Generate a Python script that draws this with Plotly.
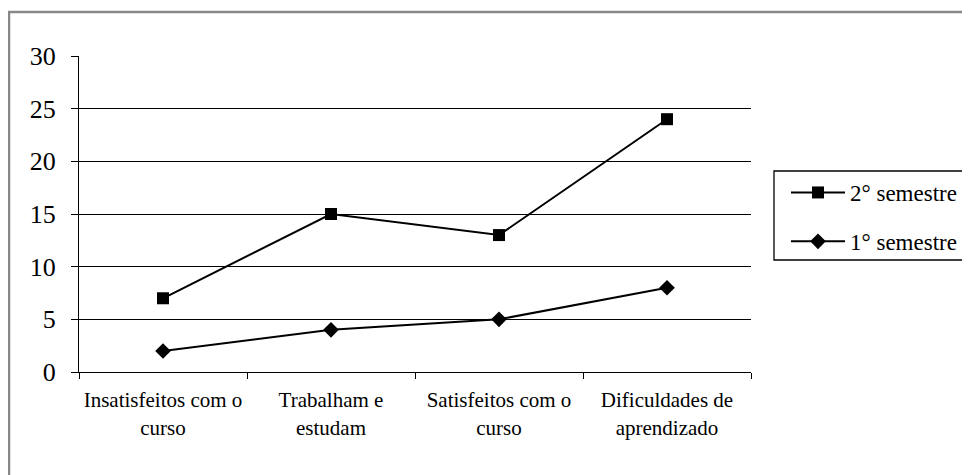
import plotly.graph_objects as go

categories = ["Insatisfeitos com o<br>curso", "Trabalham e<br>estudam",
              "Satisfeitos com o<br>curso", "Dificuldades de<br>aprendizado"]
sem2 = [7, 15, 13, 24]
sem1 = [2, 4, 5, 8]
series_names = ["2° semestre", "1° semestre"]
y_ticks = [0, 5, 10, 15, 20, 25, 30]

FONT = "Liberation Serif, Times New Roman, serif"

fig = go.Figure()
fig.add_trace(go.Scatter(
    x=categories, y=sem2, name=series_names[0], mode="lines+markers",
    line=dict(color="black", width=2),
    marker=dict(symbol="square", size=12, color="black"),
    legendgroup="a"))
fig.add_trace(go.Scatter(
    x=categories, y=sem1, name=series_names[1], mode="lines+markers",
    line=dict(color="black", width=2),
    marker=dict(symbol="diamond", size=12, color="black"),
    legendgroup="b"))

OFF = 8  # page body margin
L, R, T, B = 79 - OFF, 751 - OFF, 56 - OFF, 372 - OFF
W, H = 970, 475
pw, ph = R - L, B - T

def px(x):
    return (x - OFF - L) / pw

def py(y):
    return (B - (y - OFF)) / ph

fig.update_layout(
    width=W, height=H,
    margin=dict(l=L, r=W - R, t=T, b=H - B),
    paper_bgcolor="white", plot_bgcolor="white",
    font=dict(family=FONT, size=16, color="black"),
    showlegend=True,
    legend=dict(x=px(786), xanchor="left", y=py(217), yanchor="middle",
                traceorder="grouped", tracegroupgap=16,
                bgcolor="rgba(0,0,0,0)", borderwidth=0,
                font=dict(family=FONT, size=23, color="black"),
                itemwidth=54),
    xaxis=dict(type="category", range=[-0.5, len(categories) - 0.5],
               tickson="boundaries", ticks="outside",
               ticklen=6, tickcolor="black", tickwidth=1.3,
               showline=True, linecolor="black", linewidth=1.3,
               showgrid=False, zeroline=False, ticklabelstandoff=9,
               tickfont=dict(family=FONT, size=21, color="black"),
               fixedrange=True),
    yaxis=dict(range=[0, 30], tickvals=y_ticks, ticks="outside",
               ticklen=7, tickcolor="black", tickwidth=1.3,
               showline=True, linecolor="black", linewidth=1.3,
               showgrid=True, gridcolor="black", gridwidth=1.3,
               zeroline=False, ticklabelstandoff=10,
               tickfont=dict(family=FONT, size=26, color="black"),
               fixedrange=True),
    shapes=[
        dict(type="rect", xref="paper", yref="paper",
             x0=px(9), x1=px(1000), y0=py(500), y1=py(12),
             line=dict(color="#888888", width=2.5), layer="below"),
        dict(type="rect", xref="paper", yref="paper",
             x0=px(774), x1=px(1000), y0=py(260), y1=py(171),
             line=dict(color="black", width=1.3)),
    ],
)

fig.write_html("out.html")
